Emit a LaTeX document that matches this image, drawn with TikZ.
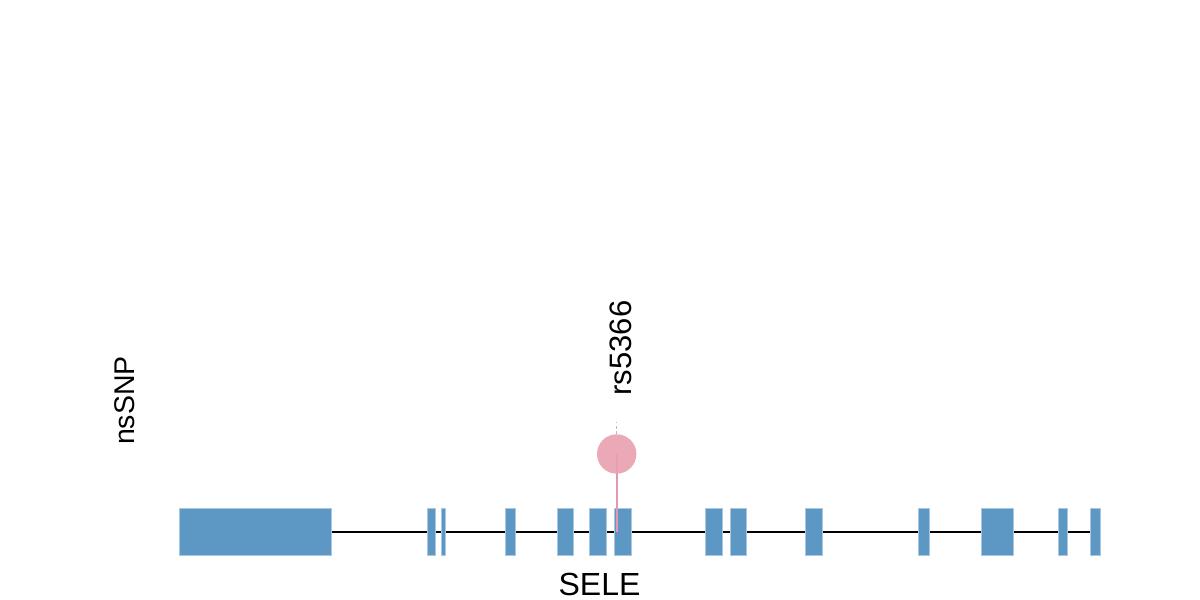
\documentclass[tikz,border=0pt]{standalone}
\usepackage{fontspec}
\setmainfont{Liberation Sans}
\usetikzlibrary{positioning}
\definecolor{exonblue}{HTML}{5D97C3}
\definecolor{exonedge}{HTML}{A9C9E3}
\definecolor{snppink}{HTML}{E9A1B1}
\definecolor{stempink}{HTML}{E796AE}

\begin{document}
\begin{tikzpicture}[x=1pt,y=1pt,
    exon/.style={fill=exonblue,draw=exonedge,line width=0.7pt},
    label/.style={anchor=base,inner sep=0pt}]
\useasboundingbox (0,0) rectangle (1200,600);
% intron line
\coordinate (gstart) at (331,68.3);
\coordinate (gend) at (1095,68.3);
\draw[line width=2.2pt] (gstart) -- (gend);
% exons
\foreach \a/\b in {179/331, 427.3/435.3, 441.7/445.3, 505.7/515.7,
        557.7/573.7, 589/606, 614.7/631.7, 705.7/722.3, 730/746.3,
        805.7/822.7, 918.3/929, 981.3/1013.7, 1058.3/1067.3, 1090.3/1100.7}
    \filldraw[exon] (\a,45) rectangle (\b,92);
% nsSNP
\coordinate (snppos) at (616.7,68);
\node[circle,minimum size=39.4pt,inner sep=0pt] (snp) at (616.7,146) {};
\draw[stempink,line width=2pt] (snppos) -- (snp.center);
\fill[snppink,fill opacity=0.92] (snp.center) circle (19.7);
\coordinate (tick) at (616.7,178.3);
\draw[gray!55,line width=1.2pt,dash pattern=on 3pt off 2.5pt] (snp.north) -- (tick);
\node[label,rotate=90,font=\fontsize{31}{36}\selectfont] (rsid) at (631,252) {rs5366};
\node[label,rotate=90,font=\fontsize{28.5}{33}\selectfont] (track) at (134,199.5) {nsSNP};
\node[label,font=\fontsize{32}{38}\selectfont] (gene) at (599.5,5) {SELE};
\end{tikzpicture}
\end{document}
